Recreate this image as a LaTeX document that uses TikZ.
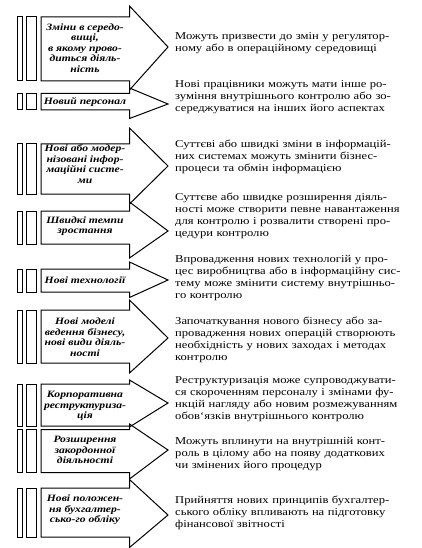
\documentclass[tikz,border=0pt]{standalone}
\usepackage{fontspec}
\setmainfont{Liberation Serif}[FakeStretch=1.2]
\newcommand{\J}[1]{\makebox[237pt][s]{#1}}
\tikzset{
  shp/.style={draw=black, line width=1pt},
  rtext/.style={text width=237pt, align=left, inner sep=0pt, anchor=west,
    font=\fontsize{10.5}{12}\selectfont},
  ltext/.style={align=center, inner sep=0pt,
    font=\fontsize{9.7}{10.6}\selectfont\bfseries\itshape}
}
% #1 body top, #2 body bottom, #3 head top, #4 tip, #5 head bottom
\newcommand{\arrowrow}[5]{%
  \draw[shp] (17.3,#1) rectangle (22.3,#2);
  \draw[shp] (26.7,#1) rectangle (36,#2);
  \draw[shp] (41,#1) -- (129.5,#1) -- (129.5,#3) -- (168,#4) -- (129.5,#5)
    -- (129.5,#2) -- (41,#2) -- cycle;
}
\begin{document}
\begin{tikzpicture}[x=1pt,y=-1pt]
\useasboundingbox (0,0) rectangle (422,548);
\fill[white] (0,0) rectangle (422,548);

\arrowrow{17}{81}{6}{47}{90}
\arrowrow{93.5}{110}{88}{104}{118.5}
\arrowrow{144}{194}{128}{166}{204}
\arrowrow{211}{244}{202}{231}{258}
\arrowrow{269}{292}{262}{280}{297.5}
\arrowrow{310}{363}{300}{338}{373}
\arrowrow{384}{426}{380}{403}{427}
\arrowrow{429.5}{472.5}{424}{450}{479}
\arrowrow{488}{537}{479.5}{515}{547.5}

\node[ltext] (l1) at (85,48) {Зміни в середо-\\вищі,\\в якому прово-\\диться діяль-\\ність};
\node[ltext] (l2) at (85,102) {Новий персонал};
\node[ltext] (l3) at (85,164) {Нові або модер-\\нізовані інфор-\\маційні систе-\\ми};
\node[ltext] (l4) at (85,226) {Швидкі темпи\\зростання};
\node[ltext] (l5) at (85,280) {Нові технології};
\node[ltext] (l6) at (85,337) {Нові моделі\\ведення бізнесу,\\нові види діяль-\\ності};
\node[ltext] (l7) at (85,406) {Корпоративна\\реструктуриза-\\ція};
\node[ltext] (l8) at (85,450) {Розширення\\закордонної\\діяльності};
\node[ltext] (l9) at (85,510) {Нові положен-\\ня бухгалтер-\\сько-го обліку};

\node[rtext] (r1) at (175,43.5) {\J{Можуть призвести до змін у регулятор-}\\ному або в операційному середовищі};
\node[rtext] (r2) at (175,97) {\J{Нові працівники можуть мати інше ро-}\\\J{зуміння внутрішнього контролю або зо-}\\середжуватися на інших його аспектах};
\node[rtext] (r3) at (175,157) {\J{Суттєві або швидкі зміни в інформацій-}\\\J{них системах можуть змінити бізнес-}\\процеси та обмін інформацією};
\node[rtext] (r4) at (175,216) {\J{Суттєве або швидке розширення діяль-}\\\J{ності може створити певне навантаження}\\\J{для контролю і розвалити створені про-}\\цедури контролю};
\node[rtext] (r5) at (175,278) {\J{Впровадження нових технологій у про-}\\\J{цес виробництва або в інформаційну сис-}\\\J{тему може змінити систему внутрішньо-}\\го контролю};
\node[rtext] (r6) at (175,340) {\J{Започаткування нового бізнесу або за-}\\\J{провадження нових операцій створюють}\\\J{необхідність у нових заходах і методах}\\контролю};
\node[rtext] (r7) at (175,399) {\J{Реструктуризація може супроводжувати-}\\\J{ся скороченням персоналу і змінами фу-}\\\J{нкцій нагляду або новим розмежуванням}\\обов{\char"0060}язків внутрішнього контролю};
\node[rtext] (r8) at (175,454) {\J{Можуть вплинути на внутрішній конт-}\\\J{роль в цілому або на появу додаткових}\\чи змінених його процедур};
\node[rtext] (r9) at (175,513) {\J{Прийняття нових принципів бухгалтер-}\\\J{ського обліку впливають на підготовку}\\фінансової звітності};
\end{tikzpicture}
\end{document}
